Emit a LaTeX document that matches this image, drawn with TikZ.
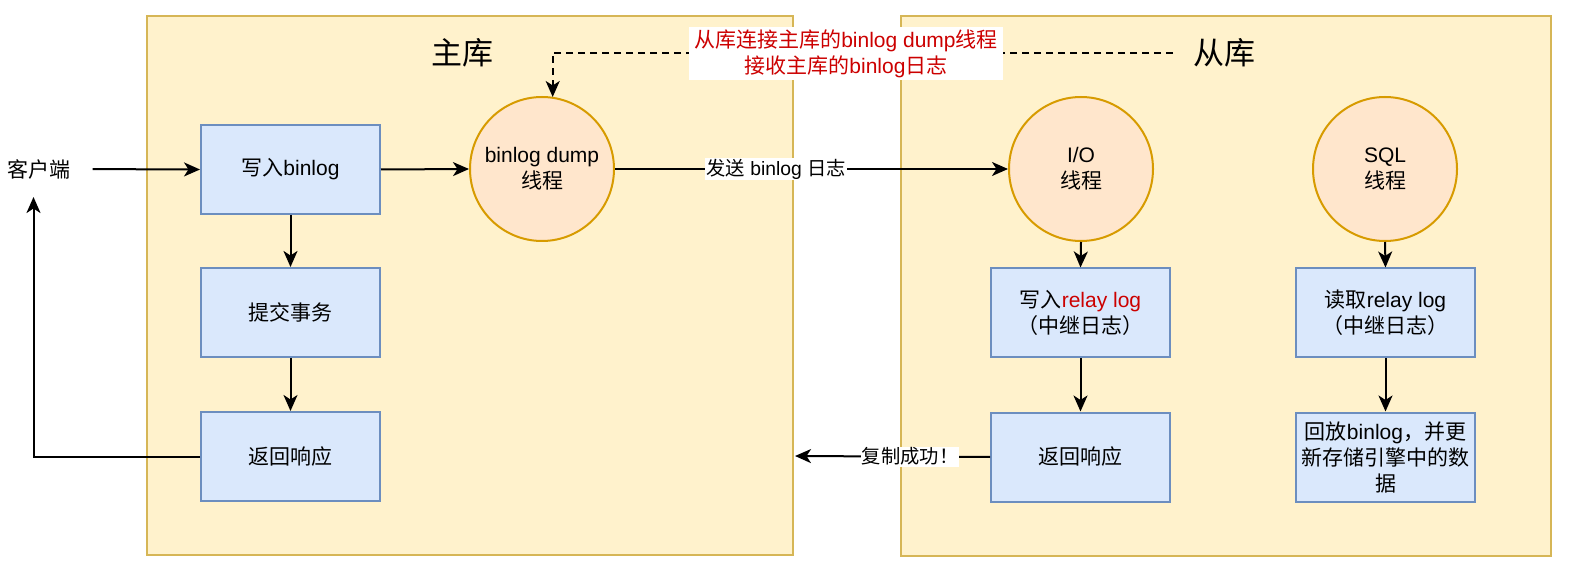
\documentclass[tikz,border=0pt]{standalone}
\usepackage{fontspec}
\setmainfont{Liberation Sans}
\newfontfamily\cjk{Noto Sans CJK SC}
\usetikzlibrary{arrows.meta}
\definecolor{ctfill}{HTML}{FFF2CC}
\definecolor{ctline}{HTML}{D6B656}
\definecolor{bxfill}{HTML}{DAE8FC}
\definecolor{bxline}{HTML}{6C8EBF}
\definecolor{crfill}{HTML}{FFE6CC}
\definecolor{crline}{HTML}{D79B00}
\definecolor{redtxt}{HTML}{CC0000}
\tikzset{
  container/.style={draw=ctline,fill=ctfill,line width=2.2pt},
  box/.style={draw=bxline,fill=bxfill,line width=2pt,minimum width=179pt,minimum height=89pt,align=center,inner sep=0pt,font=\fontsize{21}{26}\selectfont},
  thread/.style={circle,draw=crline,fill=crfill,line width=2pt,minimum size=144pt,align=center,inner sep=0pt,font=\fontsize{21}{26}\selectfont},
  title/.style={font=\fontsize{31}{36}\selectfont\cjk,inner sep=0pt},
  plain/.style={font=\fontsize{21}{26}\selectfont,inner sep=0pt,align=center},
  elabel/.style={fill=white,inner sep=1pt,font=\fontsize{19.3}{24}\selectfont},
  conn/.style={line width=2pt,-{Stealth[length=16pt,width=14pt,inset=4.5pt]}},
}
\begin{document}
\begin{tikzpicture}[x=1pt,y=-1pt]
\useasboundingbox (0,0) rectangle (1572,569);
% containers
\draw[container] (147,16) rectangle (793,555);
\draw[container] (901,16) rectangle (1551,556);
\node[title] (tmain) at (462,53) {主库};
\node[title] (tslave) at (1224,53) {从库};
% client
\node[plain] (kh) at (39,169) {{\cjk 客户端}};
% master boxes
\node[box] (w1) at (290.5,169.5) {{\cjk 写入}binlog};
\node[box] (tj) at (290.5,312.5) {{\cjk 提交事务}};
\node[box] (fh) at (290.5,456.5) {{\cjk 返回响应}};
\node[thread] (dump) at (542,169) {binlog dump\\{\cjk 线程}};
% slave
\node[thread] (io) at (1081,169) {I/O\\{\cjk 线程}};
\node[thread] (sql) at (1385,169) {SQL\\{\cjk 线程}};
\node[box] (relay) at (1080.5,313) {{\cjk 写入}\textcolor{redtxt}{relay log}\\{\cjk （中继日志）}};
\node[box] (fh2) at (1080.5,457) {{\cjk 返回响应}};
\node[box] (rd) at (1385.5,313) {{\cjk 读取}relay log\\{\cjk （中继日志）}};
\node[box] (hf) at (1385.5,457) {{\cjk 回放}binlog{\cjk ，并更}\\{\cjk 新存储引擎中的数}\\{\cjk 据}};
% coordinates
\coordinate (ret) at (33.5,197);
\coordinate (dstart) at (1173,52.7);
\coordinate (medge) at (795,456);
% connectors
\draw[conn,shorten <=22pt] (kh.east) -- (w1.west);
\draw[conn] (fh.west) -| (ret);
\draw[conn] (w1) -- (tj);
\draw[conn] (tj) -- (fh);
\draw[conn] (w1.east) -- (dump.west);
\draw[conn] (dump.east) -- node[elabel,pos=0.41] {{\cjk 发送} binlog {\cjk 日志}} (io.west);
\draw[conn] (io.south) -- (relay.north);
\draw[conn] (relay) -- (fh2);
\draw[conn] (sql.south) -- (rd.north);
\draw[conn] (rd) -- (hf);
\draw[conn] (fh2.west) -- node[elabel,pos=0.41] {{\cjk 复制成功！}} (medge);
\draw[conn,dash pattern=on 7pt off 5pt] (dstart) -| ([xshift=10.7pt,yshift=-1pt]dump.north);
\node[fill=white,text=redtxt,align=center,inner sep=0pt,minimum width=314pt,minimum height=53pt,font=\fontsize{21}{26}\selectfont] (lbl) at (846,53.5) {{\cjk 从库连接主库的}binlog dump{\cjk 线程}\\{\cjk 接收主库的}binlog{\cjk 日志}};
\end{tikzpicture}
\end{document}
